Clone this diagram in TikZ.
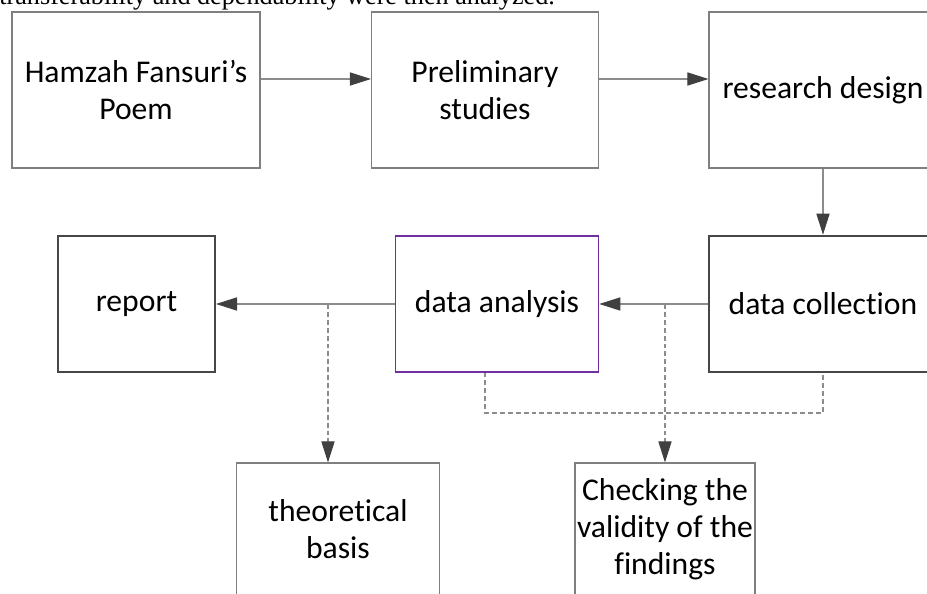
\documentclass[tikz,border=0pt]{standalone}
\usepackage{fontspec}
\setmainfont{Carlito}[Ligatures=NoCommon]
\newfontfamily\capfont{Liberation Serif}
\usepackage{tikz}
\usetikzlibrary{arrows.meta}

\definecolor{boxgray}{HTML}{7F7F7F}
\definecolor{darkline}{HTML}{474747}
\definecolor{purpleline}{HTML}{7030A0}
\definecolor{linegray}{HTML}{8C8C8C}
\definecolor{tipgray}{HTML}{404040}

\begin{document}
\begin{tikzpicture}[scale=0.2,
    box/.style={draw=boxgray, line width=0.6pt, fill=white, align=center,
        font=\fontsize{18}{21.2}\selectfont},
    flow/.style={draw=linegray, line width=0.6pt,
        -{Triangle[length=12pt,width=7.5pt,color=tipgray]}},
    dashpath/.style={draw=linegray, line width=0.6pt, dash pattern=on 2.8pt off 1.7pt},
    dashflow/.style={dashpath, -{Triangle[length=12pt,width=7.5pt,color=tipgray]}}]
            \tikzstyle{every node}+=[inner sep=0pt]
            \useasboundingbox (0,0) rectangle (92.7,-59.4);
            \clip (0,0) rectangle (92.7,-59.4);
            \node [anchor=base west, font=\capfont\fontsize{14.9}{18}\selectfont] (caption) at (-0.1,-0.45) {transferability and dependability were then analyzed.};
            % top row
            \node [box, minimum width=4.96cm, minimum height=3.12cm] (poem) at (13.6,-9.0) {Hamzah Fansuri’s\\Poem};
            \node [box, minimum width=4.54cm, minimum height=3.12cm] (prelim) at (48.5,-9.0) {Preliminary\\studies};
            \node [box, minimum width=4.56cm, minimum height=3.12cm] (design) at (82.3,-9.0) {research design};
            % middle row
            \node [box, draw=darkline, line width=1.1pt, minimum width=3.14cm, minimum height=2.72cm] (report) at (13.65,-30.4) {report};
            \node [box, draw=purpleline, minimum width=4.07cm, minimum height=2.72cm] (analysis) at (49.7,-30.4) {data analysis};
            \node [box, draw=darkline, line width=1.5pt, minimum width=4.56cm, minimum height=2.72cm] (collection) at (82.3,-30.4) {data collection};
            % bottom row
            \node [box, minimum width=4.05cm, minimum height=2.64cm] (theory) at (33.8,-52.9) {theoretical\\basis};
            \node [box, minimum width=3.6cm, minimum height=2.64cm] (checking) at (66.5,-52.9) {Checking the\\validity of the\\findings};
            \coordinate (toprow) at (0,-7.9);
            \coordinate (dashL) at (48.5,-41.3);
            \coordinate (branchT) at (32.8,-30.4);
            \draw [flow] (poem.east |- toprow) -- (prelim.west |- toprow);
            \draw [flow] (prelim.east |- toprow) -- (design.west |- toprow);
            \draw [flow] (design.south) -- (collection.north);
            \draw [flow] (collection.west) -- (analysis.east);
            \draw [flow] (analysis.west) -- (report.east);
            \draw [dashpath] (analysis.south -| dashL) -- (dashL) -| (collection.south);
            \draw [dashflow] (branchT) -- (branchT |- theory.north);
            \draw [dashflow] (analysis.east -| checking.north) -- (checking.north);
        \end{tikzpicture}
\end{document}
